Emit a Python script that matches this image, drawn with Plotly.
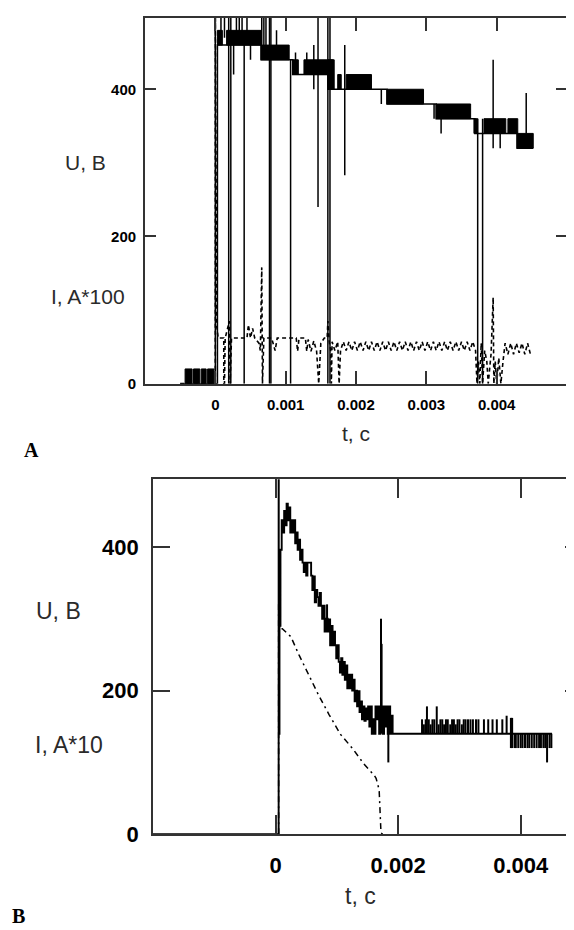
import plotly.graph_objects as go

# ================= DATA (time in ms, U in V, I scaled) =================
# ---- Panel A : U toggles between two quantisation levels inside each band
a_band_t0 = [-0.43, -0.31, -0.20, -0.11, 0.03, 0.16, 0.65, 1.10, 1.26, 1.60, 1.74, 1.86, 2.44, 3.14, 3.69, 3.82, 4.16, 4.29]
a_band_t1 = [-0.33, -0.22, -0.13, -0.02, 0.10, 0.65, 1.05, 1.18, 1.67, 1.69, 1.79, 2.22, 2.96, 3.63, 3.73, 4.13, 4.30, 4.52]
a_band_lo = [0, 0, 0, 0, 460, 460, 440, 420, 420, 400, 400, 400, 380, 360, 340, 340, 340, 320]
a_band_hi = [20, 20, 20, 20, 480, 480, 460, 440, 440, 440, 420, 420, 400, 380, 360, 360, 360, 340]

# ---- Panel A : isolated U spikes (time, low, high)
a_spike_t = [0.00, 0.08, 0.13, 0.19, 0.22, 0.26, 0.30, 0.34, 0.38, 0.41,
             0.45, 0.50, 0.66, 0.69, 0.72, 0.77, 0.79, 0.87, 1.07, 1.14,
             1.30, 1.40, 1.46, 1.60, 1.63, 1.84, 2.36, 3.11, 3.21, 3.68,
             3.73, 3.80, 3.95, 4.05, 4.42]
a_spike_lo = [0, 470, 470, 0, 0, 420, 470, 470, 470, 0,
              470, 440, 440, 440, 450, 0, 0, 450, 0, 420,
              430, 400, 240, 0, 0, 283, 380, 360, 340, 340,
              0, 0, 320, 320, 340]
a_spike_hi = [510, 510, 510, 510, 510, 470, 510, 510, 510, 460,
              510, 460, 510, 510, 510, 510, 510, 480, 440, 450,
              450, 460, 510, 510, 510, 460, 400, 380, 380, 360,
              360, 360, 440, 340, 395]

# ---- Panel A : current I, A*100 (dashed)
a_i_t = [-0.5, 0.0, 0.0, 0.02, 0.04, 0.12, 0.12, 0.13, 0.14, 0.20,
         0.21, 0.23, 0.45, 0.47, 0.50, 0.53, 0.56, 0.62, 0.64, 0.66,
         0.67, 0.69, 0.80, 0.85, 0.88, 1.15, 1.17, 1.19, 1.28, 1.30,
         1.32, 1.36, 1.40, 1.44, 1.47, 1.50, 1.55, 1.59, 1.60, 1.62,
         1.64, 1.65, 1.66, 1.70, 1.74, 1.76, 1.78, 1.82, 1.86, 1.90,
         1.94, 1.98, 2.02, 2.06, 2.10, 2.14, 2.18, 2.22, 2.26, 2.30,
         2.34, 2.38, 2.42, 2.46, 2.50, 2.54, 2.58, 2.62, 2.66, 2.70,
         2.74, 2.78, 2.82, 2.86, 2.90, 2.94, 2.98, 3.02, 3.06, 3.10,
         3.14, 3.18, 3.22, 3.26, 3.30, 3.34, 3.38, 3.42, 3.46, 3.50,
         3.54, 3.58, 3.62, 3.66, 3.70, 3.72, 3.74, 3.76, 3.78, 3.80,
         3.83, 3.86, 3.88, 3.92, 3.95, 3.96, 3.98, 4.00, 4.03, 4.06,
         4.09, 4.12, 4.16, 4.20, 4.24, 4.28, 4.32, 4.36, 4.40, 4.44, 4.48]
a_i_v = [0, 0, 510, 78, 62, 62, 0, 0, 62, 85,
         0, 62, 62, 80, 62, 75, 62, 55, 45, 158,
         0, 62, 62, 45, 62, 62, 44, 62, 62, 44,
         60, 44, 58, 44, 0, 55, 62, 62, 85, 57,
         45, 0, 57, 45, 57, 0, 45, 57, 45, 57,
         45, 57, 45, 57, 45, 57, 45, 57, 45, 57,
         45, 57, 45, 57, 45, 57, 45, 57, 45, 57,
         45, 57, 45, 57, 45, 57, 45, 57, 45, 57,
         45, 57, 45, 57, 45, 57, 45, 57, 45, 57,
         45, 57, 45, 57, 45, 0, 30, 0, 55, 0,
         45, 30, 0, 40, 117, 0, 30, 0, 35, 0,
         30, 55, 40, 55, 40, 55, 42, 55, 40, 55, 40]

# ---- Panel B : voltage U (step trace)
b_u_t = [-2.0, 0.05, 0.052, 0.056, 0.060, 0.064, 0.068, 0.08, 0.10, 0.12,
         0.14, 0.16, 0.18, 0.20, 0.22, 0.24, 0.26, 0.28, 0.30, 0.32,
         0.34, 0.36, 0.38, 0.40, 0.42, 0.44, 0.46, 0.48, 0.50, 0.52,
         0.58, 0.60, 0.62, 0.64, 0.66, 0.68, 0.70, 0.72, 0.74, 0.76,
         0.78, 0.80, 0.82, 0.85, 0.87, 0.89, 0.91, 0.93, 0.95, 0.97,
         0.99, 1.01, 1.03, 1.05, 1.07, 1.09, 1.11, 1.13, 1.15, 1.17,
         1.19, 1.21, 1.23, 1.25, 1.27, 1.29, 1.31, 1.33, 1.35, 1.37,
         1.39, 1.41, 1.43, 1.45, 1.47, 1.49, 1.51, 1.53, 1.55, 1.57,
         1.59, 1.61, 1.63, 1.65, 1.67, 1.69, 1.71, 1.75, 1.77, 1.79,
         1.81, 1.83, 1.85, 1.87, 1.89, 1.91, 4.51]
b_u_v = [0, 520, 140, 320, 140, 320, 290, 396, 437, 420,
         450, 430, 460, 437, 455, 420, 437, 420, 437, 405,
         420, 396, 410, 382, 396, 378, 365, 378, 360, 378,
         360, 340, 359, 323, 340, 330, 318, 336, 318, 300,
         318, 282, 300, 282, 299, 263, 290, 263, 282, 263,
         245, 263, 240, 225, 245, 222, 240, 215, 235, 203,
         222, 203, 222, 200, 215, 185, 200, 178, 199, 170,
         185, 160, 178, 158, 175, 160, 178, 150, 178, 140,
         160, 140, 178, 160, 178, 140, 178, 140, 178, 150,
         178, 140, 178, 140, 165, 140, 140]

# ---- Panel B : U spikes / toggles (time, low, high)
b_spike_t = [0.84, 1.72, 1.73, 1.84, 2.39, 2.42, 2.45, 2.47, 2.50, 2.53,
             2.56, 2.59, 2.63, 2.66, 2.69, 2.72, 2.75, 2.78, 2.81, 2.85,
             2.88, 2.91, 2.94, 2.97, 3.00, 3.04, 3.07, 3.10, 3.14, 3.18,
             3.22, 3.27, 3.31, 3.40, 3.47, 3.54, 3.61, 3.70, 3.77, 3.84,
             3.86, 3.90, 3.92, 3.96, 4.00, 4.03, 4.07, 4.11, 4.14, 4.18,
             4.22, 4.26, 4.30, 4.33, 4.37, 4.40, 4.43, 4.47, 4.50]
b_spike_lo = [282, 140, 150, 100, 140, 140, 140, 140, 140, 140,
              140, 140, 140, 140, 140, 140, 140, 140, 140, 140,
              140, 140, 140, 140, 140, 140, 140, 140, 140, 140,
              140, 140, 140, 140, 140, 140, 140, 140, 140, 120,
              120, 120, 120, 120, 120, 120, 120, 120, 120, 120,
              120, 120, 120, 120, 120, 120, 100, 120, 120]
b_spike_hi = [320, 300, 265, 178, 160, 153, 160, 178, 160, 153,
              160, 160, 178, 153, 160, 160, 153, 160, 160, 153,
              160, 160, 153, 160, 160, 153, 160, 160, 160, 160,
              160, 160, 160, 160, 160, 160, 160, 160, 165, 162,
              162, 140, 140, 140, 140, 140, 140, 140, 140, 140,
              140, 140, 140, 140, 140, 140, 140, 140, 140]

# ---- Panel B : current I, A*10 (dash-dot)
b_i_t = [0.05, 0.05, 0.07, 0.11, 0.25, 0.38, 0.54, 0.70, 0.87, 1.06,
         1.26, 1.44, 1.61, 1.64, 1.69, 1.70, 1.72, 1.75]
b_i_v = [0, 320, 286, 286, 275, 250, 222, 194, 167, 139,
         119, 98, 82, 78, 62, 43, 2, 0]

# ---- axes
xA_tickvals = [0, 0.001, 0.002, 0.003, 0.004]
xA_ticktext = ["0", "0.001", "0.002", "0.003", "0.004"]
xB_tickvals = [0, 0.002, 0.004]
xB_ticktext = ["0", "0.002", "0.004"]
y_tickvals = [0, 200, 400]
y_ticktext = ["0", "200", "400"]
xA_range = [-0.001, 0.005]
xB_range = [-0.002, 0.005]
yA_range = [0, 497]
yB_range = [0, 494]

assert len(a_band_t0) == len(a_band_t1) == len(a_band_lo) == len(a_band_hi)
assert len(a_spike_t) == len(a_spike_lo) == len(a_spike_hi)
assert len(a_i_t) == len(a_i_v)
assert len(b_u_t) == len(b_u_v)
assert len(b_spike_t) == len(b_spike_lo) == len(b_spike_hi)
assert len(b_i_t) == len(b_i_v)

# ================= helpers =================
def sec(ts):
    return [t / 1000.0 for t in ts]


def segs(ts, lo, hi):
    xs, ys = [], []
    for t, a, b in zip(ts, lo, hi):
        xs += [t / 1000.0, t / 1000.0, None]
        ys += [a, b, None]
    return xs, ys


def boxes(t0, t1, lo, hi):
    xs, ys = [], []
    for a, b, l, h in zip(t0, t1, lo, hi):
        xs += [a / 1000.0, b / 1000.0, b / 1000.0, a / 1000.0, a / 1000.0, None]
        ys += [l, l, h, h, l, None]
    return xs, ys


def level_path(t0, t1, lo):
    xs, ys = [-0.5 / 1000.0], [0]
    n = len(t0)
    for i in range(n):
        nxt = t0[i + 1] if i + 1 < n else t1[i]
        xs += [t0[i] / 1000.0, nxt / 1000.0]
        ys += [lo[i], lo[i]]
    return xs, ys


INK = "black"
AX = "#333333"
LBL = "#2a2a2a"

fig = go.Figure()

# ---------------- Panel A traces ----------------
bx, by = boxes(a_band_t0, a_band_t1, a_band_lo, a_band_hi)
fig.add_trace(go.Scatter(x=bx, y=by, mode="lines", fill="toself", fillcolor=INK,
                         line=dict(color=INK, width=1), xaxis="x", yaxis="y",
                         hoverinfo="skip", showlegend=False))
lx, ly = level_path(a_band_t0, a_band_t1, a_band_lo)
fig.add_trace(go.Scatter(x=lx, y=ly, mode="lines", line=dict(color=INK, width=1.5),
                         xaxis="x", yaxis="y", showlegend=False))
sx, sy = segs(a_spike_t, a_spike_lo, a_spike_hi)
fig.add_trace(go.Scatter(x=sx, y=sy, mode="lines", line=dict(color=INK, width=1.5),
                         xaxis="x", yaxis="y", showlegend=False))
fig.add_trace(go.Scatter(x=sec(a_i_t), y=a_i_v, mode="lines",
                         line=dict(color=INK, width=1.6, dash="4px,3px"),
                         xaxis="x", yaxis="y", showlegend=False))

# ---------------- Panel B traces ----------------
fig.add_trace(go.Scatter(x=sec(b_u_t), y=b_u_v, mode="lines", line_shape="hv",
                         line=dict(color=INK, width=1.9), xaxis="x2", yaxis="y2",
                         showlegend=False))
sx, sy = segs(b_spike_t, b_spike_lo, b_spike_hi)
fig.add_trace(go.Scatter(x=sx, y=sy, mode="lines", line=dict(color=INK, width=2),
                         xaxis="x2", yaxis="y2", showlegend=False))
fig.add_trace(go.Scatter(x=sec(b_i_t), y=b_i_v, mode="lines",
                         line=dict(color=INK, width=1.5, dash="6px,4px,2px,4px"),
                         xaxis="x2", yaxis="y2", showlegend=False))
# carrier for the right-hand tick axis of panel B
fig.add_trace(go.Scatter(x=[None], y=[None], mode="lines", xaxis="x2", yaxis="y3",
                         showlegend=False, hoverinfo="skip"))

W, H = 574, 930


def px_x(p):
    return p / W


def px_y(p):
    return 1 - p / H


tfA = dict(family="Liberation Sans", size=15, color="black", weight="bold")
tfB = dict(family="Liberation Sans", size=22, color="black", weight="bold")

common = dict(showgrid=False, zeroline=False, showline=True, linecolor=AX, linewidth=1.8,
              ticks="inside", tickcolor=AX, tickwidth=1.6)

fig.update_layout(
    width=W, height=H, margin=dict(l=0, r=0, t=0, b=0),
    paper_bgcolor="white", plot_bgcolor="white", showlegend=False,
    xaxis=dict(domain=[px_x(137), px_x(559)], range=xA_range, anchor="y",
               tickvals=xA_tickvals, ticktext=xA_ticktext, ticklen=13, mirror="ticks",
               tickfont=tfA, ticklabelstandoff=6, **common),
    yaxis=dict(domain=[px_y(381), px_y(10)], range=yA_range, anchor="x",
               tickvals=y_tickvals, ticktext=y_ticktext, ticklen=11, mirror="ticks",
               tickfont=tfA, ticklabelstandoff=4, **common),
    xaxis2=dict(domain=[px_x(145), 1.0], range=xB_range, anchor="y2",
                tickvals=xB_tickvals, ticktext=xB_ticktext, ticklen=19, mirror="ticks",
                tickfont=tfB, ticklabelstandoff=10, **common),
    yaxis2=dict(domain=[px_y(838), px_y(478)], range=yB_range, anchor="x2",
                tickvals=y_tickvals, ticktext=y_ticktext, ticklen=17, mirror=False,
                tickfont=tfB, ticklabelstandoff=8, **common),
    yaxis3=dict(overlaying="y2", side="right", anchor="x2", range=yB_range,
                tickvals=[200, 400], ticks="inside", ticklen=17, tickcolor=AX, tickwidth=1.6,
                showline=False, showgrid=False, zeroline=False, showticklabels=False),
)

lab = dict(family="Liberation Sans", color=LBL)
ann = [
    ("U, B", 77, 157, 21),
    ("I, A*100", 80, 293, 21),
    ("t, c", 348, 432, 21),
    ("U, B", 50, 612, 23),
    ("I, A*10", 61, 747, 23),
    ("t, c", 352, 901, 23),
]
for text, x, y, size in ann:
    fig.add_annotation(text=text, x=px_x(x), y=px_y(y), xref="paper", yref="paper",
                       showarrow=False, xanchor="center", yanchor="middle",
                       font=dict(size=size, **lab))
for text, x, y in [("A", 23, 448), ("B", 10, 921)]:
    fig.add_annotation(text="<b>%s</b>" % text, x=px_x(x), y=px_y(y), xref="paper",
                       yref="paper", showarrow=False, xanchor="center", yanchor="middle",
                       font=dict(family="Liberation Serif", size=20, color="black"))

fig.write_html("out.html")
